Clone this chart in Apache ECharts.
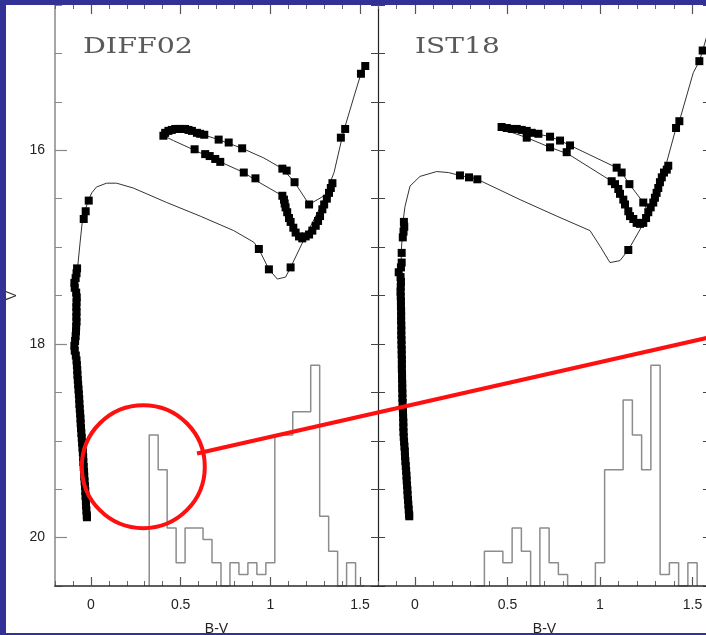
<!DOCTYPE html>
<html><head><meta charset="utf-8">
<script src="https://cdn.jsdelivr.net/npm/echarts@6/dist/echarts.min.js"></script>
<style>html,body{margin:0;padding:0;background:#fff;}#c{width:706px;height:635px;}</style>
</head><body><div id="c"></div>
<script>
// ---------- axis / tick values ----------
const xTickLabels = [0, 0.5, 1, 1.5];
const yTickLabels = [16, 18, 20];
const panelTitles = ['DIFF02', 'IST18'];
const axisNames = ['B-V', 'V'];

// ---------- DIFF02 (left panel) ----------
const diffIsoLine = [
  [-0.022,19.80],[-0.046,19.09],[-0.065,18.57],[-0.080,18.00],[-0.078,17.54],[-0.076,17.25],
  [-0.060,16.95],[-0.048,16.74],[-0.035,16.64],[-0.015,16.52],[0.005,16.44],[0.031,16.38],
  [0.087,16.34],[0.143,16.34],[0.236,16.39],[0.423,16.54],[0.609,16.68],[0.796,16.83],
  [0.908,16.95],[0.936,17.02],[0.992,17.23],[1.039,17.33],[1.085,17.31],[1.113,17.21],
  [1.206,16.85],[1.281,16.58],[1.355,16.23],[1.406,15.82],[1.467,15.44],[1.505,15.21],[1.530,15.12]
];
const diffLoopLine = [
  [1.300,16.47],[1.216,16.56],[1.135,16.33],[1.067,16.19],[0.964,16.08],[0.843,15.98],
  [0.712,15.89],[0.609,15.83],[0.525,15.78],[0.470,15.78],[0.423,15.81],[0.404,15.85],
  [0.460,15.90],[0.578,16.00],[0.721,16.12],[0.852,16.23],[0.927,16.32],[1.067,16.47],
  [1.085,16.59],[1.113,16.74],[1.141,16.85],[1.169,16.91],[1.197,16.89],[1.234,16.83],
  [1.277,16.68],[1.315,16.50],[1.346,16.34]
];
const diffMS = [
  [-0.077,17.22],[-0.080,17.27],[-0.085,17.32],[-0.092,17.37],[-0.090,17.42],[-0.082,17.47],
  [-0.079,17.52],[-0.080,17.57],[-0.081,17.62],[-0.080,17.67],[-0.081,17.72],[-0.080,17.77],
  [-0.082,17.82],[-0.083,17.87],[-0.085,17.92],[-0.088,17.97],[-0.092,18.02],[-0.090,18.07],
  [-0.084,18.12],[-0.080,18.17],[-0.078,18.22],[-0.076,18.27],[-0.075,18.32],[-0.073,18.37],
  [-0.071,18.42],[-0.069,18.47],[-0.067,18.52],[-0.065,18.57],[-0.064,18.62],[-0.062,18.67],
  [-0.060,18.72],[-0.058,18.77],[-0.057,18.82],[-0.055,18.87],[-0.053,18.92],[-0.051,18.97],
  [-0.049,19.02],[-0.047,19.07],[-0.045,19.12],[-0.043,19.17],[-0.042,19.22],[-0.040,19.27],
  [-0.038,19.32],[-0.037,19.37],[-0.035,19.42],[-0.033,19.47],[-0.031,19.52],[-0.030,19.57],
  [-0.028,19.62],[-0.027,19.67],[-0.025,19.72],[-0.023,19.77],[-0.022,19.79]
];
const diffStars = [
  [-0.040,16.71],[-0.029,16.63],[-0.012,16.52],
  [0.936,17.02],[0.992,17.23],[1.113,17.21],
  [1.393,15.87],[1.417,15.78],[1.505,15.21],[1.529,15.13],
  [0.404,15.85],[0.414,15.82],[0.432,15.80],[0.451,15.79],[0.470,15.78],[0.488,15.78],
  [0.507,15.78],[0.525,15.78],[0.544,15.79],[0.563,15.80],[0.591,15.82],[0.609,15.83],
  [0.632,15.84],[0.712,15.89],[0.768,15.92],[0.843,15.98],[1.067,16.19],[1.091,16.21],
  [1.135,16.33],[1.216,16.56],
  [0.578,15.99],[0.637,16.04],[0.662,16.06],[0.693,16.09],[0.721,16.12],[0.852,16.23],
  [0.917,16.29],[1.067,16.47],[1.076,16.51],[1.080,16.55],[1.085,16.59],[1.094,16.64],
  [1.104,16.70],[1.113,16.74],[1.128,16.80],[1.141,16.85],[1.160,16.89],[1.178,16.91],
  [1.197,16.89],[1.216,16.87],[1.234,16.83],[1.253,16.78],[1.266,16.73],[1.277,16.68],
  [1.290,16.61],[1.300,16.56],[1.315,16.50],[1.327,16.44],[1.337,16.39],[1.346,16.34]
];

// ---------- IST18 (right panel) ----------
const istIsoLine = [
  [-0.031,19.79],[-0.050,19.26],[-0.068,18.64],[-0.076,17.54],[-0.074,17.05],[-0.065,16.74],
  [-0.054,16.58],[-0.027,16.37],[0.027,16.27],[0.117,16.22],[0.180,16.23],[0.243,16.26],
  [0.292,16.28],[0.337,16.30],[0.568,16.51],[0.766,16.68],[0.946,16.83],[1.000,16.99],
  [1.054,17.16],[1.108,17.14],[1.153,17.03],[1.216,16.82],[1.286,16.51],[1.361,16.12],
  [1.411,15.77],[1.429,15.70],[1.504,15.20],[1.537,15.08],[1.555,14.97],[1.573,14.85],[1.600,14.68]
];
const istLoopLine = [
  [1.255,16.62],[1.234,16.54],[1.159,16.35],[1.117,16.23],[1.090,16.18],[0.838,15.95],
  [0.784,15.90],[0.730,15.86],[0.631,15.82],[0.550,15.78],[0.496,15.77],[0.468,15.76],
  [0.500,15.80],[0.604,15.87],[0.730,15.97],[0.829,16.04],[1.063,16.32],[1.099,16.40],
  [1.135,16.56],[1.180,16.71],[1.216,16.76],[1.249,16.70],[1.288,16.54],[1.324,16.33],[1.369,16.16]
];
const istMS = [
  [-0.060,16.74],[-0.058,16.79],[-0.062,16.84],[-0.066,16.90],[-0.072,17.06],[-0.072,17.16],
  [-0.076,17.21],[-0.088,17.26],[-0.078,17.31],[-0.076,17.36],[-0.077,17.41],[-0.078,17.46],
  [-0.077,17.51],[-0.076,17.56],[-0.076,17.61],[-0.075,17.66],[-0.075,17.71],[-0.075,17.76],
  [-0.074,17.81],[-0.074,17.86],[-0.074,17.91],[-0.073,17.96],[-0.073,18.01],[-0.072,18.06],
  [-0.072,18.11],[-0.071,18.16],[-0.071,18.21],[-0.071,18.26],[-0.070,18.31],[-0.070,18.36],
  [-0.069,18.41],[-0.069,18.46],[-0.068,18.51],[-0.068,18.56],[-0.067,18.61],[-0.066,18.66],
  [-0.065,18.71],[-0.064,18.76],[-0.063,18.81],[-0.063,18.86],[-0.062,18.91],[-0.061,18.96],
  [-0.059,19.01],[-0.057,19.06],[-0.055,19.11],[-0.054,19.16],[-0.052,19.21],[-0.050,19.26],
  [-0.048,19.31],[-0.046,19.36],[-0.045,19.41],[-0.043,19.46],[-0.041,19.51],[-0.040,19.56],
  [-0.038,19.61],[-0.036,19.66],[-0.034,19.71],[-0.032,19.76],[-0.031,19.78]
];
const istStars = [
  [0.243,16.26],[0.292,16.28],[0.337,16.30],[1.153,17.03],
  [1.411,15.77],[1.429,15.70],[1.537,15.08],[1.555,14.97],
  [0.468,15.76],[0.496,15.77],[0.523,15.78],[0.550,15.78],[0.577,15.79],[0.604,15.80],
  [0.631,15.82],[0.667,15.83],[0.730,15.86],[0.784,15.90],[0.838,15.95],[1.090,16.18],
  [1.117,16.23],[1.159,16.35],[1.234,16.54],
  [0.604,15.87],[0.730,15.97],[0.820,16.02],[1.063,16.32],[1.081,16.35],[1.099,16.40],
  [1.108,16.45],[1.126,16.51],[1.135,16.56],[1.153,16.63],[1.162,16.68],[1.180,16.71],
  [1.198,16.75],[1.216,16.76],[1.234,16.75],[1.249,16.70],[1.261,16.64],[1.274,16.59],
  [1.288,16.54],[1.297,16.49],[1.306,16.44],[1.315,16.39],[1.324,16.33],[1.334,16.28],
  [1.346,16.23],[1.361,16.20],[1.369,16.16]
];

// ---------- colour histograms (counts per 0.05 bin) ----------
const histEdges = [0.325,0.375,0.425,0.475,0.525,0.575,0.625,0.675,0.725,0.775,0.825,0.875,
  0.925,0.975,1.025,1.075,1.125,1.175,1.225,1.275,1.325,1.375,1.425,1.475,1.525];
const diffCounts = [13,10,5,2,5,5,4,2,0,2,1,2,1,2,13,13,15,15,19,6,3,0,2,0];
const istCounts  = [0,3,3,2,5,3,0,5,2,1,0,0,0,2,10,10,16,13,10,19,1,2,0,2];

function stepPoints(counts) {
  const pts = [[histEdges[0], 0]];
  for (let i = 0; i < counts.length; i++) {
    pts.push([histEdges[i], counts[i]]);
    pts.push([histEdges[i + 1], counts[i]]);
  }
  pts.push([histEdges[counts.length], 0]);
  return pts;
}

const FONT = 'Liberation Sans, Arial, sans-serif';
const XMIN = -0.2, XMAX = 1.6, YMIN = 14.5, YMAX = 20.5;

function baseX(g, pos) {
  return { type: 'value', gridIndex: g, min: XMIN, max: XMAX, position: pos,
    splitLine: { show: false }, axisLine: { show: false, onZero: false },
    axisLabel: { show: false }, axisTick: { show: false } };
}
function xAxesFor(g) {
  const main = baseX(g, 'bottom');
  main.axisLine = { show: true, onZero: false, lineStyle: { color: '#2a2a2a', width: 1.5 } };
  main.axisTick = { show: true, inside: true, length: 9, customValues: xTickLabels, lineStyle: { color: '#555', width: 1.2 } };
  main.axisLabel = { show: true, customValues: xTickLabels, margin: 12, fontSize: 14, color: '#222', fontFamily: FONT,
    formatter: v => String(v) };
  main.name = axisNames[0]; main.nameLocation = 'middle'; main.nameGap = 36;
  main.nameTextStyle = { fontSize: 14, color: '#222', fontFamily: FONT };
  main.z = 5;
  const minorB = baseX(g, 'bottom');
  minorB.interval = 0.1;
  minorB.axisTick = { show: true, inside: true, length: 5, lineStyle: { color: '#666', width: 1 } };
  const minorT = baseX(g, 'top');
  minorT.interval = 0.1;
  minorT.axisTick = { show: true, inside: true, length: 4, lineStyle: { color: '#666', width: 1 } };
  const majorT = baseX(g, 'top');
  majorT.axisTick = { show: true, inside: true, length: 9, customValues: xTickLabels, lineStyle: { color: '#555', width: 1.2 } };
  majorT.axisLabel = { show: false, customValues: xTickLabels };
  return [main, minorB, minorT, majorT];
}
function baseY(g, pos) {
  return { type: 'value', gridIndex: g, inverse: true, min: YMIN, max: YMAX, position: pos,
    splitLine: { show: false }, axisLine: { show: false, onZero: false },
    axisLabel: { show: false }, axisTick: { show: false } };
}
// grid 0 y axes: 0 main, 1 minor, 2 right, 3 counts
const yL0 = baseY(0, 'left');
yL0.axisLine = { show: true, onZero: false, lineStyle: { color: '#a6a6a6', width: 2 } };
yL0.axisTick = { show: true, inside: true, length: 12, customValues: yTickLabels, lineStyle: { color: '#888', width: 1.2 } };
yL0.axisLabel = { show: true, customValues: yTickLabels, margin: 10, fontSize: 14, color: '#222', fontFamily: FONT };
yL0.name = axisNames[1]; yL0.nameLocation = 'middle'; yL0.nameGap = 36;
yL0.nameTextStyle = { fontSize: 14, color: '#333', fontFamily: FONT };
const yL0m = baseY(0, 'left'); yL0m.interval = 0.5;
yL0m.axisTick = { show: true, inside: true, length: 7, lineStyle: { color: '#888', width: 1 } };
const yR0 = baseY(0, 'right'); yR0.interval = 0.5;
yR0.axisTick = { show: true, inside: true, length: 7, lineStyle: { color: '#444', width: 1 } };
const yC0 = { type: 'value', gridIndex: 0, min: 0, max: 50, show: false };
// grid 1 y axes: 4 left, 5 right, 6 counts
const yL1 = baseY(1, 'left'); yL1.interval = 0.5;
yL1.axisLine = { show: true, onZero: false, lineStyle: { color: '#222', width: 1.2 } };
yL1.axisTick = { show: true, inside: true, length: 7, lineStyle: { color: '#444', width: 1 } };
const yR1 = baseY(1, 'right'); yR1.interval = 0.5;
yR1.axisTick = { show: true, inside: true, length: 8, lineStyle: { color: '#444', width: 1 } };
const yC1 = { type: 'value', gridIndex: 1, min: 0, max: 50, show: false };

function panelSeries(xi, yi, ci, iso, loop, ms, stars, counts) {
  return [
    { type: 'line', xAxisIndex: xi, yAxisIndex: ci, data: stepPoints(counts), symbol: 'none',
      lineStyle: { color: '#8c8c8c', width: 1.5 }, z: 1, silent: true },
    { type: 'line', xAxisIndex: xi, yAxisIndex: yi, data: iso, symbol: 'none',
      lineStyle: { color: '#333', width: 1 }, z: 3, silent: true },
    { type: 'line', xAxisIndex: xi, yAxisIndex: yi, data: loop, symbol: 'none',
      lineStyle: { color: '#333', width: 1 }, z: 3, silent: true },
    { type: 'scatter', xAxisIndex: xi, yAxisIndex: yi, data: ms.concat(stars), symbol: 'rect',
      symbolSize: 8, itemStyle: { color: '#000', opacity: 1 }, z: 4, silent: true }
  ];
}

const BLUE = '#323296';
const RED = '#ff1010';
const chart = echarts.init(document.getElementById('c'), null, { renderer: 'canvas' });
chart.setOption({
  animation: false,
  backgroundColor: '#ffffff',
  grid: [
    { left: 55, top: 5, width: 323, height: 581, containLabel: false, outerBoundsMode: 'none' },
    { left: 378, top: 5, width: 333, height: 581, containLabel: false, outerBoundsMode: 'none' }
  ],
  xAxis: xAxesFor(0).concat(xAxesFor(1)),
  yAxis: [yL0, yL0m, yR0, yC0, yL1, yR1, yC1],
  series: panelSeries(0, 0, 3, diffIsoLine, diffLoopLine, diffMS, diffStars, diffCounts)
    .concat(panelSeries(4, 4, 6, istIsoLine, istLoopLine, istMS, istStars, istCounts)),
  graphic: [
    { type: 'text', x: 83, y: 47, scaleX: 1.24, z: 50,
      style: { text: panelTitles[0], font: '23px "DejaVu Serif"', fill: '#5a5a5a', textAlign: 'left', textVerticalAlign: 'middle' } },
    { type: 'text', x: 415, y: 47, scaleX: 1.22, z: 50,
      style: { text: panelTitles[1], font: '23px "DejaVu Serif"', fill: '#5a5a5a', textAlign: 'left', textVerticalAlign: 'middle' } },
    { type: 'circle', z: 60, shape: { cx: 143.3, cy: 466.7, r: 61.5 }, style: { fill: 'none', stroke: RED, lineWidth: 4 } },
    { type: 'line', z: 60, shape: { x1: 197, y1: 453.5, x2: 720, y2: 335 }, style: { stroke: RED, lineWidth: 4 } },
    { type: 'rect', z: 100, shape: { x: 0, y: 0, width: 706, height: 5 }, style: { fill: BLUE } },
    { type: 'rect', z: 100, shape: { x: 0, y: 0, width: 6, height: 635 }, style: { fill: BLUE } },
    { type: 'rect', z: 100, shape: { x: 0, y: 633, width: 706, height: 2 }, style: { fill: BLUE } }
  ]
});
</script></body></html>
